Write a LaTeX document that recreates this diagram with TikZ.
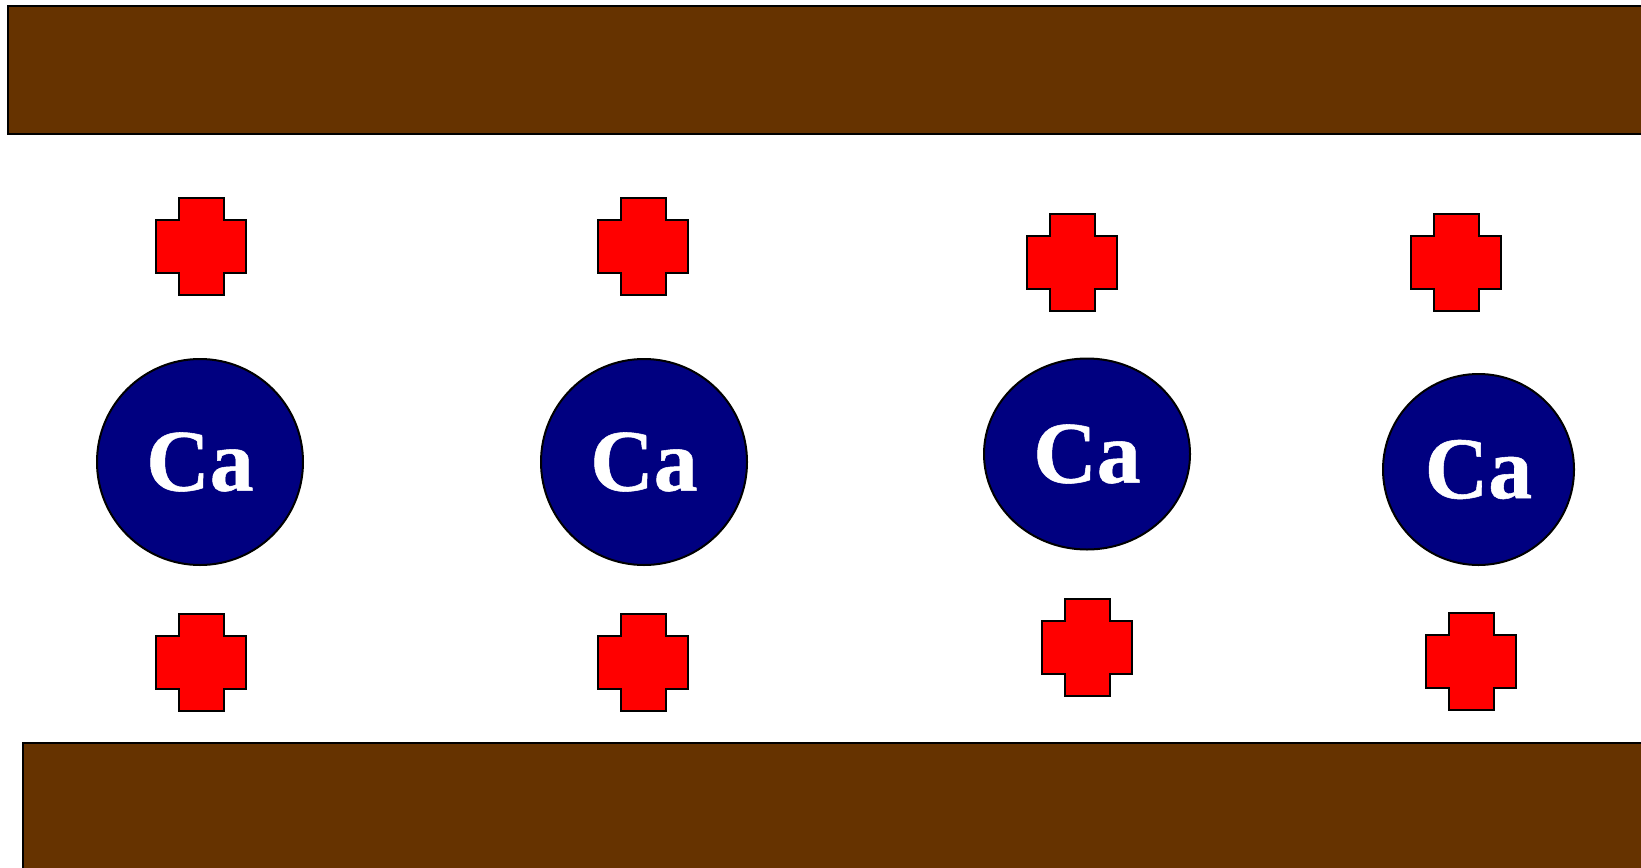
\documentclass[tikz,border=0pt]{standalone}
\usepackage{xcolor}
\usepackage{fontspec}
\usepackage{tikz}
\usetikzlibrary{shapes.geometric}
\newfontfamily\cafont[FakeBold=0.6]{Liberation Serif Bold}
\definecolor{claybrown}{HTML}{663300}
\definecolor{ionblue}{HTML}{000080}
\definecolor{chargered}{HTML}{FF0000}

\begin{document}
\begin{tikzpicture}[
    x=0.5pt, y=-0.5pt,
    layer/.style={draw=black, line width=1pt, fill=claybrown},
    ion/.style={circle, draw=black, line width=1pt, fill=ionblue, minimum size=103pt, inner sep=0pt, text=white, font=\cafont\fontsize{44}{44}\selectfont},
    charge/.style={draw=black, line width=1pt, fill=chargered},
    pics/posion/.style={code={
        \draw[charge] (-22.5,-48.5) -- (22.5,-48.5) -- (22.5,-26.5) -- (45,-26.5) -- (45,26.5) -- (22.5,26.5) -- (22.5,48.5) -- (-22.5,48.5) -- (-22.5,26.5) -- (-45,26.5) -- (-45,-26.5) -- (-22.5,-26.5) -- cycle;
    }}
]
    \useasboundingbox (0,0) rectangle (1641,867);

    % clay layers
    \draw[layer] (8,6) rectangle (1660,134);
    \draw[layer] (23,743) rectangle (1660,890);

    % calcium ions
    \node[ion] (ca1) at (200,462) {Ca};
    \node[ion] (ca2) at (644,462) {Ca};
    \node[ion, ellipse, minimum width=103pt, minimum height=95.5pt] (ca3) at (1087,454) {Ca};
    \node[ion, minimum size=95.5pt] (ca4) at (1478.5,469.5) {Ca};

    % positive charges
    \pic at (201,246) {posion};
    \pic at (643,246) {posion};
    \pic at (1072,262) {posion};
    \pic at (1456,262) {posion};
    \pic at (201,662) {posion};
    \pic at (643,662) {posion};
    \pic at (1087,647) {posion};
    \pic at (1471,661) {posion};
\end{tikzpicture}
\end{document}
